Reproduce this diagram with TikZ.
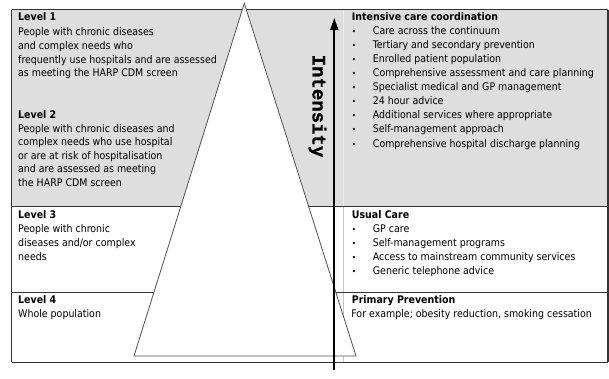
\documentclass[tikz,border=0pt]{standalone}
\usepackage{fontspec}
\setmainfont{DejaVu Sans Condensed}
\newfontfamily\monob[BoldFeatures={FakeBold=1.2}]{Liberation Mono}
\usetikzlibrary{arrows.meta}
\definecolor{cellgray}{HTML}{DEDEDE}
\definecolor{rule}{HTML}{333333}
\definecolor{trio}{HTML}{505050}
\begin{document}
\begin{tikzpicture}[x=1pt,y=-1pt,
  txt/.style={anchor=base west,inner sep=0pt,font=\fontsize{10.5}{12}\selectfont},
  ttl/.style={txt,font=\fontsize{10.5}{12}\selectfont\bfseries},
  bul/.style={anchor=base,inner sep=0pt,font=\fontsize{8}{10}\selectfont},
  tline/.style={draw=rule,line width=1.3pt},
  divider/.style={draw=#1,line width=0.8pt},
  tri/.style={draw=trio,fill=white,line width=0.8pt,line join=miter},
  intarrow/.style={draw=black,line width=1.8pt,-{Triangle[length=12pt,width=8pt]}}]
\useasboundingbox (0,0) rectangle (609,378);
% gray upper rows
\fill[cellgray] (11.7,9.7) rectangle (608,206.7);
% column divider
\draw[divider={white!92!black}] (343.8,9.7) -- (343.8,206.7);
\draw[divider={black!22}] (343.8,206.7) -- (343.8,362.3);
% table lines
\draw[tline] (11.7,9.7) -- (608,9.7);
\draw[tline] (11.7,206.7) -- (608,206.7);
\draw[tline] (11.7,292.3) -- (608,292.3);
\draw[tline] (11.7,362.3) -- (608,362.3);
\draw[tline] (11.7,9.7) -- (11.7,362.3);
\draw[tline] (608,9.7) -- (608,362.3);
% triangle
\coordinate (apex) at (244.3,3.3);
\coordinate (bl) at (134,356);
\coordinate (br) at (356,356);
\draw[tri] (apex) -- (bl) -- (br) -- cycle;
% intensity arrow
\coordinate (arrB) at (334.3,369.5);
\coordinate (arrT) at (334.3,18);
\draw[intarrow] (arrB) -- (arrT);
\node[rotate=-90,inner sep=0pt,font=\monob\bfseries\fontsize{19}{20}\selectfont] (intensity) at (317.5,106) {Intensity};
% left column
\node[ttl] (l1) at (18,20.5) {Level 1};
\node[txt] (l1a) at (18,35) {People with chronic diseases};
\node[txt] (l1b) at (18,49) {and complex needs who};
\node[txt] (l1c) at (18,63) {frequently use hospitals and are assessed};
\node[txt] (l1d) at (18,76.5) {as meeting the HARP CDM screen};
\node[ttl] (l2) at (18,118.7) {Level 2};
\node[txt] (l2a) at (18,132.2) {People with chronic diseases and};
\node[txt] (l2b) at (18,145.7) {complex needs who use hospital};
\node[txt] (l2c) at (18,159.3) {or are at risk of hospitalisation};
\node[txt] (l2d) at (18,172.8) {and are assessed as meeting};
\node[txt] (l2e) at (18,186.5) {the HARP CDM screen};
\node[ttl] (l3) at (18,218) {Level 3};
\node[txt] (l3a) at (18,232) {People with chronic};
\node[txt] (l3b) at (18,246) {diseases and/or complex};
\node[txt] (l3c) at (18,260.2) {needs};
\node[ttl] (l4) at (18,303.7) {Level 4};
\node[txt] (l4a) at (18,317) {Whole population};
% right column
\node[ttl] (icc) at (351.7,20.4) {Intensive care coordination};
\foreach \t [count=\i from 0] in {Care across the continuum,Tertiary and secondary prevention,Enrolled patient population,Comprehensive assessment and care planning,Specialist medical and GP management,24 hour advice,Additional services where appropriate,Self-management approach,Comprehensive hospital discharge planning}{
  \node[bul] (iccb\i) at (354,34.4+14.08*\i) {\textbullet};
  \node[txt] (icct\i) at (372.7,34.4+14.08*\i) {\t};
}
\node[ttl] (uc) at (351.7,218.3) {Usual Care};
\foreach \t [count=\i from 0] in {GP care,Self-management programs,Access to mainstream community services,Generic telephone advice}{
  \node[bul] (ucb\i) at (354,232+14.1*\i) {\textbullet};
  \node[txt] (uct\i) at (372.7,232+14.1*\i) {\t};
}
\node[ttl] (pp) at (351.7,303.7) {Primary Prevention};
\node[txt] (ppa) at (351.2,317) {For example; obesity reduction, smoking cessation};
\end{tikzpicture}
\end{document}
